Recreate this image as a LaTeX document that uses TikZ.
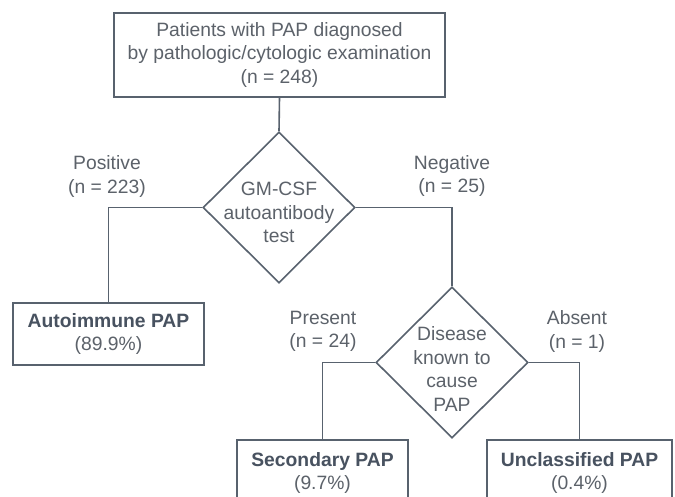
\documentclass[tikz,border=0pt]{standalone}
\usepackage{fontspec}
\setmainfont{Liberation Sans}
\usetikzlibrary{shapes.geometric}
\definecolor{linec}{RGB}{88,98,110}
\definecolor{textc}{RGB}{92,98,106}
\definecolor{boldc}{RGB}{72,82,96}
\tikzset{
  base/.style={font=\fontsize{19.3}{23.5}\selectfont, text=textc, align=center, inner sep=0pt},
  boxnode/.style={base, draw=linec, line width=1.6pt, rectangle},
  decide/.style={draw=linec, line width=1.6pt, diamond, inner sep=0pt},
  lbl/.style={base},
  conn/.style={draw=linec, line width=1.6pt},
}
\begin{document}
\begin{tikzpicture}[x=1pt,y=-1pt]
\useasboundingbox (0,0) rectangle (675,497);
\clip (0,0) rectangle (675,497);
\fill[white] (0,0) rectangle (675,497);
% top box
\node[boxnode, minimum width=331pt, minimum height=84pt] (top) at (279.5,55)
  {Patients with PAP diagnosed\\by pathologic/cytologic examination\\(n = 248)};
% first decision
\node[decide, minimum width=152pt, minimum height=151pt] (g) at (279,207.5) {};
\node[base] (gtext) at (279,212.5) {GM-CSF\\autoantibody\\test};
% autoimmune box
\node[boxnode, minimum width=191pt, minimum height=62pt] (auto) at (108.5,334)
  {\textcolor{boldc}{\textbf{Autoimmune PAP}}\\(89.9\%)};
% second decision
\node[decide, minimum width=152pt, minimum height=151pt] (d) at (452,362.5) {};
\node[base] (dtext) at (452,369) {Disease\\known to\\cause\\PAP};
% bottom boxes
\node[boxnode, minimum width=171pt, minimum height=66pt] (sec) at (322.5,473)
  {\textcolor{boldc}{\textbf{Secondary PAP}}\\(9.7\%)};
\node[boxnode, minimum width=185pt, minimum height=66pt] (unc) at (579.5,473)
  {\textcolor{boldc}{\textbf{Unclassified PAP}}\\(0.4\%)};
% labels
\node[lbl] (pos) at (107,176.5) {Positive\\(n = 223)};
\node[lbl] (neg) at (452,176) {Negative\\(n = 25)};
\node[lbl] (pres) at (323,331.5) {Present\\(n = 24)};
\node[lbl] (abs) at (577,331.5) {Absent\\(n = 1)};
% connectors
\draw[conn] (top.south) -- (g.north);
\draw[conn] (g.west) -| (auto.north);
\draw[conn] (g.east) -| (d.north);
\draw[conn] (d.west) -| (sec.north);
\draw[conn] (d.east) -| (unc.north);
\end{tikzpicture}
\end{document}
